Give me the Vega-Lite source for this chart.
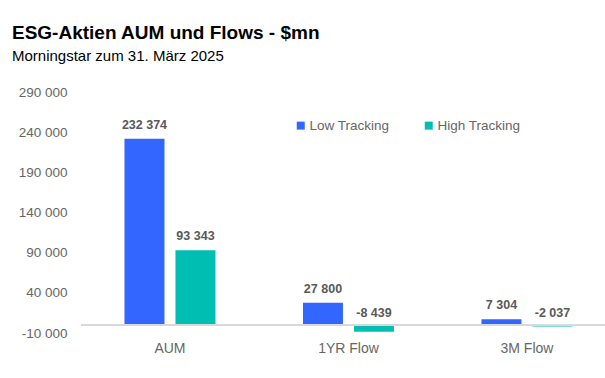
{
  "$schema": "https://vega.github.io/schema/vega-lite/v6.json",
  "width": 524,
  "height": 240.5,
  "autosize": {"type": "none"},
  "padding": {"left": 81, "top": 92.5, "right": 0, "bottom": 45},
  "background": "white",
  "title": {
    "text": "ESG-Aktien AUM und Flows - $mn",
    "subtitle": "Morningstar zum 31. März 2025",
    "anchor": "start",
    "frame": "group",
    "dx": -69,
    "font": "Liberation Sans",
    "fontSize": 19,
    "fontWeight": "bold",
    "color": "#000000",
    "subtitleFont": "Liberation Sans",
    "subtitleFontSize": 15,
    "subtitleColor": "#000000",
    "subtitlePadding": 6,
    "offset": 22
  },
  "config": {
    "locale": {"number": {"decimal": ",", "thousands": " ", "grouping": [3], "currency": ["", ""], "minus": "-"}},
    "view": {"stroke": null},
    "font": "Liberation Sans"
  },
  "data": {
    "values": [
      {"category": "AUM", "series": "Low Tracking", "value": 232374},
      {"category": "AUM", "series": "High Tracking", "value": 93343},
      {"category": "1YR Flow", "series": "Low Tracking", "value": 27800},
      {"category": "1YR Flow", "series": "High Tracking", "value": -8439},
      {"category": "3M Flow", "series": "Low Tracking", "value": 7304},
      {"category": "3M Flow", "series": "High Tracking", "value": -2037}
    ]
  },
  "encoding": {
    "x": {
      "field": "category",
      "type": "nominal",
      "sort": ["AUM", "1YR Flow", "3M Flow"],
      "scale": {"paddingInner": 0.4902, "paddingOuter": 0.2129, "align": 0.572},
      "axis": {"title": null, "domain": false, "ticks": false, "labelAngle": 0, "labelFontSize": 14, "labelColor": "#666666", "labelPadding": 8, "labelFont": "Liberation Sans"}
    },
    "xOffset": {
      "field": "series",
      "type": "nominal",
      "sort": ["Low Tracking", "High Tracking"],
      "scale": {"paddingInner": 0.2157, "paddingOuter": 0}
    }
  },
  "layer": [
    {
      "mark": {"type": "bar"},
      "encoding": {
        "y": {
          "field": "value",
          "type": "quantitative",
          "scale": {"domain": [-10000, 290000], "nice": false, "zero": false},
          "axis": {"title": null, "values": [-10000, 40000, 90000, 140000, 190000, 240000, 290000], "format": ",d", "domain": false, "ticks": false, "grid": false, "labelFontSize": 13.5, "labelColor": "#666666", "labelPadding": 14, "labelFont": "Liberation Sans"}
        },
        "y2": {"datum": 0},
        "color": {
          "field": "series",
          "type": "nominal",
          "sort": ["Low Tracking", "High Tracking"],
          "scale": {"domain": ["Low Tracking", "High Tracking"], "range": ["#3366ff", "#00bfb2"]},
          "legend": {
            "title": null,
            "orient": "none",
            "legendX": 213,
            "legendY": 26,
            "direction": "horizontal",
            "symbolType": "square",
            "symbolSize": 64,
            "symbolStrokeWidth": 0,
            "labelFontSize": 13.5,
            "labelColor": "#666666",
            "labelFont": "Liberation Sans",
            "labelOffset": 2,
            "columnPadding": 32
          }
        }
      }
    },
    {
      "mark": {"type": "rule", "color": "#d9d9d9", "strokeWidth": 1.5},
      "encoding": {"y": {"datum": 0}, "x": {"value": 0}, "x2": {"value": 524}, "xOffset": null}
    },
    {
      "transform": [{"filter": "datum.value >= 0"}],
      "mark": {"type": "text", "baseline": "alphabetic", "dy": -10, "fontWeight": "bold", "fontSize": 12.5, "color": "#595959", "font": "Liberation Sans"},
      "encoding": {
        "y": {"field": "value", "type": "quantitative"},
        "text": {"field": "value", "type": "quantitative", "format": ",d"}
      }
    },
    {
      "transform": [{"filter": "datum.value < 0"}],
      "mark": {"type": "text", "baseline": "alphabetic", "dy": -8, "fontWeight": "bold", "fontSize": 12.5, "color": "#595959", "font": "Liberation Sans"},
      "encoding": {
        "y": {"datum": 0},
        "text": {"field": "value", "type": "quantitative", "format": ",d"}
      }
    }
  ]
}
